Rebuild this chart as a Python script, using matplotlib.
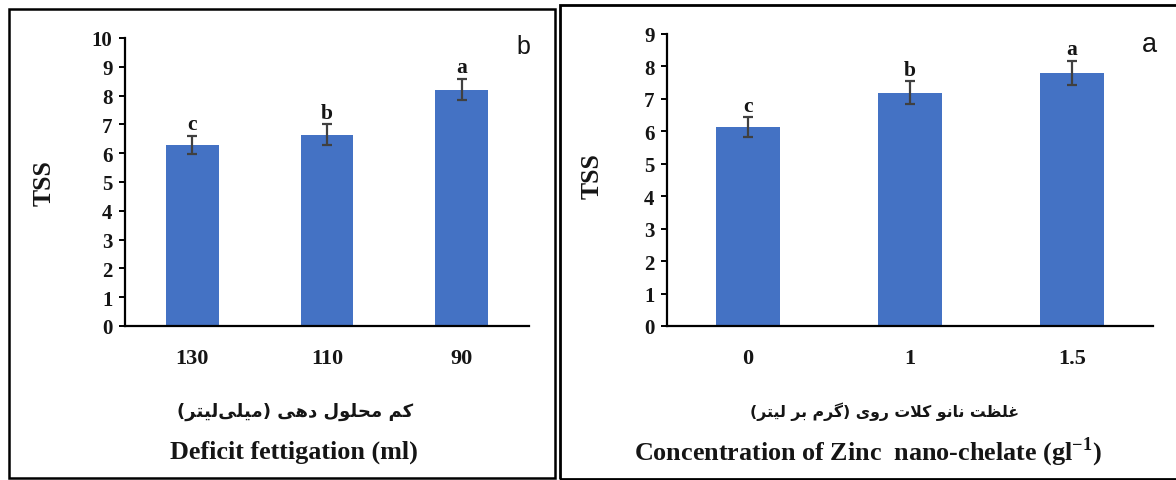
import matplotlib
matplotlib.use("Agg")
import matplotlib.pyplot as plt
from matplotlib.patches import Rectangle

# ---------------- data ----------------
deficit_labels = ['130', '110', '90']
deficit_tss = [6.29, 6.64, 8.21]
deficit_err = [0.32, 0.36, 0.38]
deficit_letters = ['c', 'b', 'a']

zinc_labels = ['0', '1', '1.5']
zinc_tss = [6.14, 7.19, 7.80]
zinc_err = [0.30, 0.36, 0.38]
zinc_letters = ['c', 'b', 'a']

left_fa = 'کم محلول دهی (میلی\u200cلیتر)'
left_en = 'Deficit fettigation (ml)'
right_fa = 'غلظت نانو کلات روی (گرم بر لیتر)'
right_en = r'Concentration of Zinc  nano-chelate (gl$^{\mathregular{-1}}$)'

# ------------- minimal Persian shaping (matplotlib has no shaper) -------------
FORMS = {
    'ا': ('\uFE8D', '\uFE8E', None, None),
    'ب': ('\uFE8F', '\uFE90', '\uFE91', '\uFE92'),
    'ت': ('\uFE95', '\uFE96', '\uFE97', '\uFE98'),
    'ح': ('\uFEA1', '\uFEA2', '\uFEA3', '\uFEA4'),
    'د': ('\uFEA9', '\uFEAA', None, None),
    'ر': ('\uFEAD', '\uFEAE', None, None),
    'ظ': ('\uFEC5', '\uFEC6', '\uFEC7', '\uFEC8'),
    'غ': ('\uFECD', '\uFECE', '\uFECF', '\uFED0'),
    'ل': ('\uFEDD', '\uFEDE', '\uFEDF', '\uFEE0'),
    'م': ('\uFEE1', '\uFEE2', '\uFEE3', '\uFEE4'),
    'ن': ('\uFEE5', '\uFEE6', '\uFEE7', '\uFEE8'),
    'ه': ('\uFEE9', '\uFEEA', '\uFEEB', '\uFEEC'),
    'و': ('\uFEED', '\uFEEE', None, None),
    'ک': ('\uFB8E', '\uFB8F', '\uFB90', '\uFB91'),
    'گ': ('\uFB92', '\uFB93', '\uFB94', '\uFB95'),
    'ی': ('\uFBFC', '\uFBFD', '\uFBFE', '\uFBFF'),
    '\uFEFB': ('\uFEFB', '\uFEFC', None, None),  # lam-alef
}


def shape_fa(s):
    s = s.replace('لا', '\uFEFB')
    chars = list(s)
    out = []
    for i, c in enumerate(chars):
        if c not in FORMS:
            if c != '\u200c':
                out.append(c)
            continue
        prev = chars[i - 1] if i > 0 else None
        nxt = chars[i + 1] if i + 1 < len(chars) else None
        jp = prev in FORMS and FORMS[prev][2] is not None
        jn = nxt in FORMS and FORMS[c][2] is not None
        iso, fin, ini, med = FORMS[c]
        if jp and jn:
            out.append(med)
        elif jp:
            out.append(fin)
        elif jn:
            out.append(ini)
        else:
            out.append(iso)
    vis = ''.join(reversed(out))
    return vis.translate(str.maketrans('()', ')('))


# ---------------- figure ----------------
W, H = 1176, 481
fig = plt.figure(figsize=(W / 100, H / 100), dpi=100)
fig.patch.set_facecolor('white')

SERIF = 'Liberation Serif'
BAR = '#4472C4'
ERR = '#404040'
TXT = '#151515'


def px_axes(x0, x1, ytop, ybot):
    return fig.add_axes([x0 / W, (H - ybot) / H, (x1 - x0) / W, (ybot - ytop) / H])


def draw_panel(ax, labels, vals, errs, letters, ymax):
    x = list(range(len(labels)))
    ax.bar(x, vals, width=0.39, color=BAR, zorder=2)
    ax.errorbar(x, vals, yerr=errs, fmt='none', ecolor=ERR, elinewidth=1.6,
                capsize=3.3, capthick=1.6, zorder=3)
    for xi, v, e, t in zip(x, vals, errs, letters):
        ax.annotate(t, (xi, v + e), xytext=(0, 1.0), textcoords='offset points',
                    ha='center', va='bottom', family=SERIF, weight='bold',
                    fontsize=15.5, color=TXT)
    ax.set_xlim(-0.5, len(labels) - 0.5)
    ax.set_ylim(0, ymax)
    ax.set_yticks(range(0, ymax + 1))
    ax.set_xticks(x)
    ax.set_xticklabels(labels)
    for sp in ('top', 'right'):
        ax.spines[sp].set_visible(False)
    for sp in ('left', 'bottom'):
        ax.spines[sp].set_linewidth(1.6)
        ax.spines[sp].set_color('black')
    ax.tick_params(axis='y', direction='out', length=4, width=1.4, pad=5,
                   labelsize=15)
    ax.tick_params(axis='x', length=0, pad=16, labelsize=16)
    for lab in ax.get_xticklabels() + ax.get_yticklabels():
        lab.set_family(SERIF)
        lab.set_weight('bold')
        lab.set_color(TXT)


axL = px_axes(125, 529, 39, 327)
draw_panel(axL, deficit_labels, deficit_tss, deficit_err, deficit_letters, 10)

axR = px_axes(667, 1153, 35, 327)
draw_panel(axR, zinc_labels, zinc_tss, zinc_err, zinc_letters, 9)


def ftext(x, y, s, **kw):
    fig.text(x / W, 1 - y / H, s, **kw)


# y-axis titles
ftext(44, 183, 'TSS', rotation=90, ha='center', va='center', family=SERIF,
      weight='bold', fontsize=18.5, color=TXT)
ftext(592, 176, 'TSS', rotation=90, ha='center', va='center', family=SERIF,
      weight='bold', fontsize=18.5, color=TXT)

# x-axis titles (Persian + English)
ftext(295, 412, shape_fa(left_fa), ha='center', va='center',
      family='DejaVu Sans', weight='bold', fontsize=13, color=TXT)
ftext(294, 452, left_en, ha='center', va='center', family=SERIF,
      weight='bold', fontsize=18.8, color=TXT)
ftext(885, 412, shape_fa(right_fa), ha='center', va='center',
      family='DejaVu Sans', weight='bold', fontsize=11.3, color=TXT)
ftext(868, 452, right_en, ha='center', va='center', family=SERIF,
      weight='bold', fontsize=18.8, color=TXT)

# panel letters
ftext(523, 47, 'b', ha='center', va='center', family='Liberation Sans',
      fontsize=18, color=TXT)
ftext(1149, 45, 'a', ha='center', va='center', family='Liberation Sans',
      fontsize=19.5, color=TXT)

# panel frames
def frame(x0, y0, x1, y1, lw, color='black'):
    fig.add_artist(Rectangle((x0 / W, 1 - y1 / H), (x1 - x0) / W, (y1 - y0) / H,
                             transform=fig.transFigure, fill=False, lw=lw,
                             ec=color, zorder=10))


frame(8.5, 10, 555, 479, 1.8)
frame(560, 6, 1185, 480, 2.0)

fig.savefig('out.png', dpi=100, facecolor='white')
